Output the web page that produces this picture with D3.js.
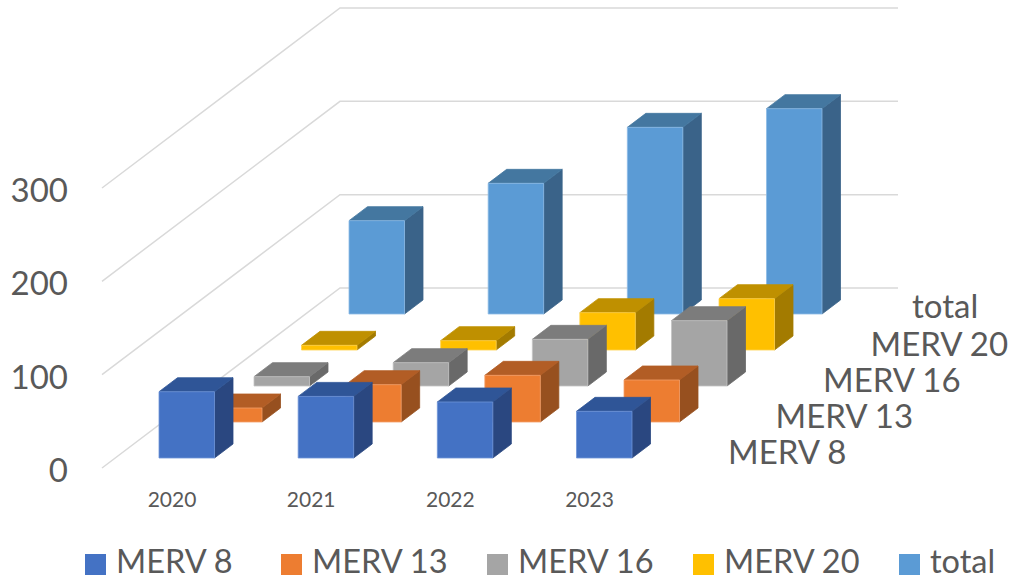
<!DOCTYPE html>
<html>
<head>
<meta charset="utf-8">
<script src="https://cdn.jsdelivr.net/npm/d3@7"></script>
<style>
  html, body { margin: 0; padding: 0; background: #fff; }
  svg { display: block; }
  text { font-family: Lato, "Open Sans", sans-serif; fill: #595959; }
</style>
</head>
<body>
<svg id="chart" width="1012" height="580"></svg>
<script>
const years = ["2020", "2021", "2022", "2023"];
const seriesNames = ["MERV 8", "MERV 13", "MERV 16", "MERV 20", "total"];
const merv8 = [71, 66, 60, 50];
const merv13 = [15, 40, 50, 45];
const merv16 = [10, 25, 50, 70];
const merv20 = [5, 10, 40, 55];
const total = [100, 140, 200, 220];
const yTicks = [0, 100, 200, 300];

const faceColors = ["#4472c4", "#ed7d31", "#a5a5a5", "#ffc000", "#5b9bd5"];
const topColors = ["#2f5597", "#b25d25", "#7c7c7c", "#bf9000", "#4477a0"];
const sideColors = ["#2a4780", "#97501f", "#696969", "#a37b00", "#3a6389"];
const edgeColors = ["#6f94d8", "#f4a06a", "#c4c4c4", "#ffd24d", "#8dbbe6"];

const svg = d3.select("#chart");
const values = [merv8, merv13, merv16, merv20, total];

// height of a value above the floor
const y = d3.scaleLinear().domain([0, 300]).range([0, 280]);
// front left corner of each year, first series
const x = d3.scalePoint().domain(years).range([159, 576.5]);
// how far a series sits back into the chart
const depthX = d3.scalePoint().domain(seriesNames).range([0, 190]);
const depthY = d3.scalePoint().domain(seriesNames).range([0, 144]);

const barW = 55.5, sideX = 18.5, sideY = 14, baseY = 458;

// floor and wall grid
const grid = svg.append("g");
yTicks.forEach(t => {
  const h = y(t);
  grid.append("polyline")
    .attr("points", `102,${468 - h} 340,${288 - h} 898,${288 - h}`)
    .attr("fill", "none")
    .attr("stroke", "#d9d9d9")
    .attr("stroke-width", 1.5);
});

function poly(g, pts, fill, edge) {
  g.append("polygon")
    .attr("points", pts.map(p => p.join(",")).join(" "))
    .attr("fill", fill)
    .attr("stroke", edge)
    .attr("stroke-width", 0.8)
    .attr("stroke-linejoin", "round");
}

// back row first so nearer bars cover it
d3.range(seriesNames.length - 1, -1, -1).forEach(s => {
  const name = seriesNames[s];
  const g = svg.append("g").attr("class", "series");
  years.forEach((yr, i) => {
    const x0 = x(yr) + depthX(name);
    const x1 = x0 + barW;
    const y0 = baseY - depthY(name);
    const y1 = y0 - y(values[s][i]);
    poly(g, [[x1, y1], [x1 + sideX, y1 - sideY], [x1 + sideX, y0 - sideY], [x1, y0]], sideColors[s], sideColors[s]);
    poly(g, [[x0, y1], [x0 + sideX, y1 - sideY], [x1 + sideX, y1 - sideY], [x1, y1]], topColors[s], topColors[s]);
    poly(g, [[x0, y0], [x1, y0], [x1, y1], [x0, y1]], faceColors[s], edgeColors[s]);
  });
});

// value axis
svg.append("g").selectAll("text").data(yTicks).join("text")
  .attr("x", 68)
  .attr("y", d => 482 - y(d))
  .attr("text-anchor", "end")
  .attr("font-size", 33)
  .text(d => d);

// year labels
svg.append("g").selectAll("text").data(years).join("text")
  .attr("x", d => x(d) + 13)
  .attr("y", 507)
  .attr("text-anchor", "middle")
  .attr("font-size", 21)
  .text(d => d);

// series labels along the depth axis, total sits a little higher and left
svg.append("g").selectAll("text").data(seriesNames).join("text")
  .attr("x", d => 728 + depthX(d) - (d === "total" ? 6 : 0))
  .attr("y", d => 464 - depthY(d) - (d === "total" ? 2 : 0))
  .attr("font-size", 33)
  .text(d => d);

// legend
const legendX = [85, 281, 487, 693, 899];
const legend = svg.append("g").selectAll("g").data(seriesNames).join("g")
  .attr("transform", (d, i) => `translate(${legendX[i]},554)`);
legend.append("rect")
  .attr("width", 21).attr("height", 21)
  .attr("fill", (d, i) => faceColors[i]);
legend.append("text")
  .attr("x", 31).attr("y", 19)
  .attr("font-size", 32.5)
  .text(d => d);
</script>
</body>
</html>
